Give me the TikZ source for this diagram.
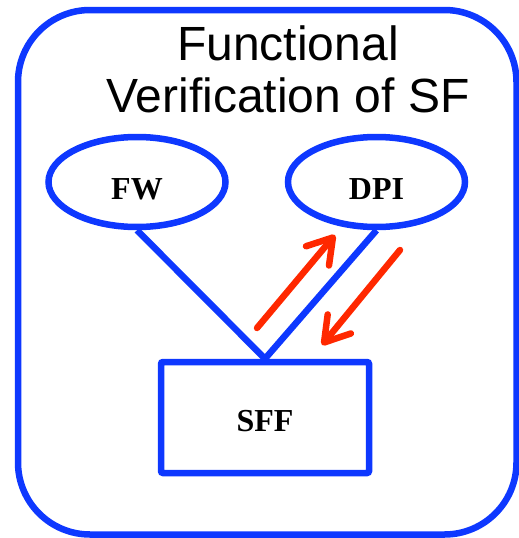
\documentclass[tikz,border=0pt]{standalone}
\usepackage{fontspec}
\setmainfont{Liberation Serif}
\newfontfamily\titlefont{Liberation Sans}
\usetikzlibrary{shapes.geometric,arrows.meta}
\definecolor{frameblue}{RGB}{14,56,255}
\definecolor{flowred}{RGB}{255,40,0}
\tikzset{
  outline/.style={draw=frameblue,line width=6.5pt},
  module/.style={outline,ellipse,minimum width=177pt,minimum height=90pt,inner sep=0pt,
    font=\fontsize{32}{32}\selectfont\bfseries,text height=35pt,text depth=0pt},
  block/.style={outline,rectangle,rounded corners=2pt,minimum width=208pt,minimum height=111pt,
    inner sep=0pt,font=\fontsize{32}{32}\selectfont\bfseries,text height=27pt,text depth=0pt},
  link/.style={draw=frameblue,line width=6.5pt,line join=miter},
  flow/.style={draw=flowred,line width=6.5pt,line cap=round,
    -{Straight Barb[length=24pt,width=30pt,round]}},
}
\begin{document}
\begin{tikzpicture}[x=1pt,y=-1pt]
  \useasboundingbox (0,0) rectangle (519,538);
  % outer frame
  \draw[outline,rounded corners=72pt] (18,10) rectangle (516.5,534.5);
  % title
  \node[anchor=north,align=center,inner sep=0pt,
        font=\titlefont\fontsize{48}{52}\selectfont] (title) at (288,25.5)
        {Functional\\Verification of SF};
  % components
  \node[module] (fw)  at (137,182) {FW};
  \node[module] (dpi) at (376.5,182) {DPI};
  \node[block]  (sff) at (265,417.5) {SFF};
  % links
  \draw[link] (fw.south) -- (sff.north) -- (dpi.south);
  % data flow arrows
  \coordinate (upS) at (257,328);
  \coordinate (upE) at (335,235);
  \coordinate (dnS) at (400,250);
  \coordinate (dnE) at (322,345);
  \draw[flow] (upS) -- (upE);
  \draw[flow] (dnS) -- (dnE);
\end{tikzpicture}
\end{document}
